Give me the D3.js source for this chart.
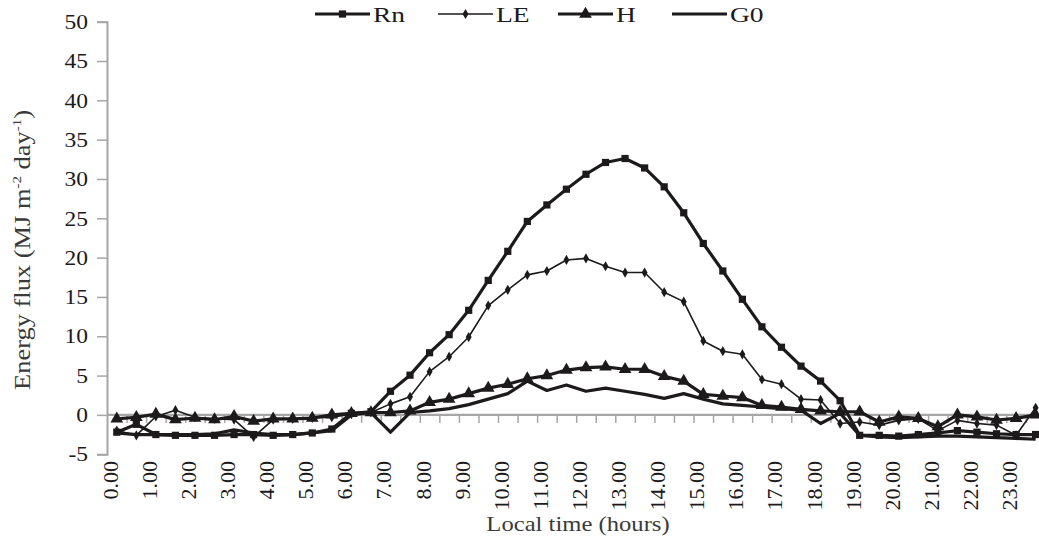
<!DOCTYPE html>
<html>
<head>
<meta charset="utf-8">
<script src="https://cdn.jsdelivr.net/npm/d3@7"></script>
<style>
  html, body { margin: 0; padding: 0; background: #fff; }
  svg { display: block; font-family: "Liberation Serif", "Times New Roman", serif; }
</style>
</head>
<body>
<svg id="chart" width="1039" height="540"></svg>
<script>
// Half-hourly categories (local time)
const times = ["0.00","0.30","1.00","1.30","2.00","2.30","3.00","3.30","4.00","4.30","5.00","5.30",
  "6.00","6.30","7.00","7.30","8.00","8.30","9.00","9.30","10.00","10.30","11.00","11.30",
  "12.00","12.30","13.00","13.30","14.00","14.30","15.00","15.30","16.00","16.30","17.00","17.30",
  "18.00","18.30","19.00","19.30","20.00","20.30","21.00","21.30","22.00","22.30","23.00","23.30"];

// Hour labels shown on the time axis
const hourLabels = ["0.00","1.00","2.00","3.00","4.00","5.00","6.00","7.00","8.00","9.00","10.00","11.00",
  "12.00","13.00","14.00","15.00","16.00","17.00","18.00","19.00","20.00","21.00","22.00","23.00"];

// Energy-axis ticks (MJ m-2 day-1)
const yTicks = [-5, 0, 5, 10, 15, 20, 25, 30, 35, 40, 45, 50];

// Net radiation
const Rn = [-2.2, -1.2, -2.5, -2.6, -2.6, -2.6, -2.5, -2.5, -2.6, -2.5, -2.3, -1.8,
  0.2, 0.4, 3.0, 5.05, 7.9, 10.2, 13.3, 17.1, 20.8, 24.6, 26.7, 28.7,
  30.6, 32.1, 32.6, 31.4, 29.0, 25.7, 21.8, 18.3, 14.7, 11.2, 8.6, 6.2,
  4.3, 1.8, -2.6, -2.6, -2.7, -2.5, -2.3, -2.0, -2.2, -2.4, -2.5, -2.5];

// Latent heat flux
const LE = [-2.0, -2.6, -0.2, 0.6, -0.3, -0.5, -0.6, -2.8, -0.6, -0.5, -0.4, -0.3,
  0.1, 0.3, 1.4, 2.3, 5.5, 7.4, 9.9, 13.9, 15.9, 17.8, 18.3, 19.7,
  19.9, 18.9, 18.1, 18.1, 15.6, 14.4, 9.4, 8.1, 7.7, 4.5, 3.9, 2.0,
  1.9, -1.1, -0.9, -1.3, -0.7, -0.5, -2.0, -0.7, -1.1, -1.3, -2.6, 0.9];

// Sensible heat flux
const H = [-0.5, -0.3, 0.1, -0.6, -0.4, -0.6, -0.2, -0.8, -0.5, -0.5, -0.4, 0.0,
  0.2, 0.3, 0.3, 0.5, 1.6, 2.0, 2.7, 3.4, 3.9, 4.6, 5.0, 5.7,
  6.0, 6.1, 5.8, 5.8, 4.9, 4.3, 2.6, 2.4, 2.2, 1.2, 1.0, 0.7,
  0.5, 0.4, 0.4, -0.9, -0.25, -0.45, -1.5, 0.0, -0.25, -0.65, -0.45, 0.0];

// Soil heat flux
const G0 = [-2.3, -2.5, -2.5, -2.5, -2.5, -2.4, -1.9, -2.3, -2.5, -2.5, -2.3, -2.0,
  0.0, 0.3, -2.2, 0.3, 0.5, 0.8, 1.3, 2.0, 2.7, 4.3, 3.1, 3.8,
  3.0, 3.4, 3.0, 2.6, 2.1, 2.7, 2.0, 1.4, 1.2, 1.0, 0.8, 0.6,
  -1.1, 0.2, -2.6, -2.8, -2.9, -2.8, -2.7, -2.7, -2.8, -2.9, -3.0, -3.1];

const seriesNames = ["Rn", "LE", "H", "G0"];

const ink = "#1c1a1b";
const grid = "#a6a6a6";

const svg = d3.select("#chart");

const plotLeft = 107, step = 19.55;
const x = d3.scaleBand().domain(times).range([plotLeft, plotLeft + step * times.length]).padding(0);
const y = d3.scaleLinear().domain([-5, 50]).range([454.2, 21.7]);
const cx = d => x(d) + x.bandwidth() / 2;

// Y axis
const sx = 1.12;  // horizontal widening of the serif lettering
const yAxis = svg.append("g")
  .attr("transform", `translate(${plotLeft},0)`)
  .call(d3.axisLeft(y).tickValues(yTicks).tickSize(10).tickPadding(9).tickFormat(d => String(d)));
yAxis.select(".domain").attr("stroke", grid).attr("stroke-width", 2);
yAxis.selectAll(".tick line").attr("stroke", grid).attr("stroke-width", 1.5);
yAxis.selectAll(".tick text")
  .attr("fill", ink).attr("font-size", 21)
  .attr("font-family", "Liberation Serif, serif")
  .attr("x", -19 / sx)
  .attr("transform", `scale(${sx},1)`);

// Zero line with category ticks
const edge = d3.scaleLinear().domain([0, times.length]).range([plotLeft, plotLeft + step * times.length]);
const xAxis = svg.append("g")
  .attr("transform", `translate(0,${y(0)})`)
  .call(d3.axisBottom(edge).tickValues(d3.range(1, times.length + 1)).tickSize(8).tickFormat(""));
xAxis.select(".domain").attr("stroke", grid).attr("stroke-width", 2.2).attr("d", `M${plotLeft},0H${plotLeft + step * times.length}`);
xAxis.selectAll(".tick line").attr("stroke", grid).attr("stroke-width", 1.5);

// Hour labels, rotated, hanging below the plot
const xLab = svg.append("g")
  .attr("transform", `translate(0,461)`)
  .call(d3.axisBottom(x).tickValues(hourLabels).tickSize(0).tickPadding(0));
xLab.select(".domain").remove();
xLab.selectAll(".tick text")
  .attr("fill", ink).attr("font-size", 22)
  .attr("font-family", "Liberation Serif, serif")
  .attr("text-anchor", "end")
  .attr("dy", null).attr("y", 0)
  .attr("transform", "translate(1,0) rotate(-90)");

// Series lines
const line = d3.line().x((d, i) => cx(times[i])).y(d => y(d));
const data = { Rn, LE, H, G0 };
const widths = { Rn: 3.2, LE: 1.6, H: 3.2, G0: 3.2 };

seriesNames.forEach(name => {
  svg.append("path")
    .datum(data[name])
    .attr("fill", "none")
    .attr("stroke", ink)
    .attr("stroke-width", widths[name])
    .attr("stroke-linejoin", "round")
    .attr("d", line);
});

// Markers
const sym = {
  Rn: d3.symbol().type(d3.symbolSquare).size(52),
  LE: d3.symbol().type(d3.symbolDiamond).size(30),
  H: d3.symbol().type(d3.symbolTriangle).size(70)
};
["Rn", "LE", "H"].forEach(name => {
  svg.append("g").selectAll("path")
    .data(data[name])
    .join("path")
    .attr("d", sym[name])
    .attr("fill", ink)
    .attr("transform", (d, i) => `translate(${cx(times[i])},${y(d)})`);
});

// Legend
const legendX = [315, 438, 558, 672];
const lg = svg.append("g");
seriesNames.forEach((name, k) => {
  const g = lg.append("g").attr("transform", `translate(${legendX[k]},14)`);
  g.append("line").attr("x1", 0).attr("x2", 55).attr("y1", 0).attr("y2", 0)
    .attr("stroke", ink).attr("stroke-width", widths[name]);
  if (sym[name]) g.append("path").attr("d", sym[name]).attr("fill", ink).attr("transform", "translate(27.5,0)");
  g.append("text").attr("transform", "translate(58,8) scale(1.25,1)")
    .attr("fill", ink).attr("font-size", 22).text(name);
});

// Axis titles
svg.append("text")
  .attr("transform", `translate(578,531) scale(${sx},1)`)
  .attr("text-anchor", "middle")
  .attr("fill", "#3a3a3a").attr("font-size", 22)
  .text("Local time (hours)");

const yt = svg.append("text")
  .attr("transform", `translate(30,250) rotate(-90) scale(1.15,1)`)
  .attr("text-anchor", "middle")
  .attr("fill", "#3a3a3a").attr("font-size", 23);
yt.append("tspan").text("Energy flux (MJ m");
yt.append("tspan").attr("font-size", 13).attr("dy", -9).text("-2");
yt.append("tspan").attr("dy", 9).text(" day");
yt.append("tspan").attr("font-size", 13).attr("dy", -9).text("-1");
yt.append("tspan").attr("dy", 9).text(")");
</script>
</body>
</html>
